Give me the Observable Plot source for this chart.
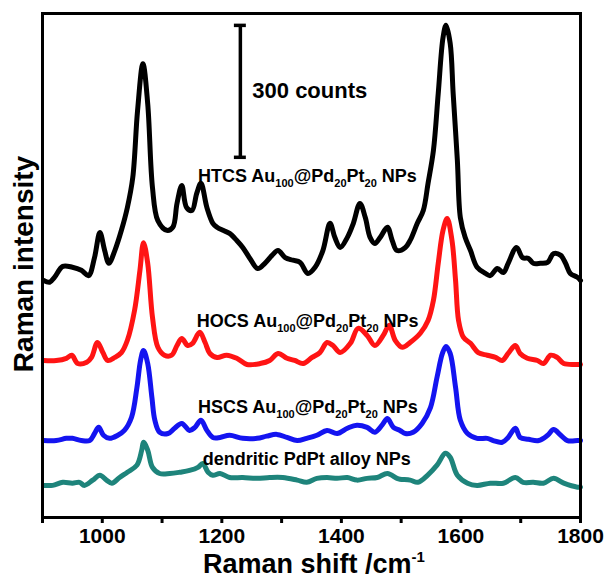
<!DOCTYPE html>
<html><head><meta charset="utf-8">
<script src="https://cdn.jsdelivr.net/npm/d3@7"></script>
<script src="https://cdn.jsdelivr.net/npm/@observablehq/plot@0.6"></script>
<style>
body{margin:0;background:#fff}
svg{font-family:"Liberation Sans",Arial,sans-serif}
</style>
</head><body><div id="chart"></div>
<script>
// HTCS Au100@Pd20Pt20 NPs (black)
const htcsShift = [902,912,920,934,950,965,977,987,996,1004,1011,1021,1032,1042,1051,1059,1068,1076,1084,1093,1108,1118,1125,1133,1141,1150,1158,1165,1175,1185,1192,1202,1213,1225,1235,1247,1260,1272,1284,1294,1306,1319,1331,1344,1356,1369,1381,1389,1398,1410,1420,1431,1440,1448,1456,1465,1477,1485,1493,1507,1515,1527,1537,1545,1554,1562,1570,1575,1582,1587,1594,1599,1607,1616,1627,1641,1649,1661,1671,1679,1693,1703,1713,1721,1733,1745,1755,1767,1775,1783,1795,1800];
const htcsCounts = [534,530,541,566,564,557,545,586,643,602,573,602,648,700,768,920,1027,936,745,670,648,655,709,750,700,693,732,755,700,664,655,648,641,625,609,584,561,573,591,602,586,580,575,550,564,602,664,632,609,632,664,709,677,632,618,632,655,625,602,609,625,664,693,755,830,959,1086,1114,1073,959,807,677,632,602,564,550,545,561,552,573,609,586,584,573,573,575,595,591,573,550,541,534];
// HOCS Au100@Pd20Pt20 NPs (red)
const hocsShift = [902,923,940,949,959,974,982,992,1001,1009,1021,1032,1042,1054,1063,1069,1076,1084,1093,1104,1116,1125,1133,1143,1151,1163,1172,1180,1192,1208,1225,1242,1264,1280,1294,1309,1322,1336,1351,1364,1376,1386,1398,1415,1428,1443,1456,1470,1480,1490,1502,1515,1532,1545,1554,1562,1570,1577,1585,1591,1596,1604,1616,1629,1644,1658,1669,1679,1691,1699,1711,1728,1738,1750,1761,1772,1795,1800];
const hocsCounts = [352,352,357,364,345,348,359,393,370,352,359,370,398,466,557,620,573,450,382,364,364,386,402,386,391,416,393,368,359,364,357,343,345,352,368,357,352,345,359,370,393,386,370,391,425,409,386,409,432,398,382,393,414,443,489,573,648,675,625,534,443,405,391,370,364,359,352,368,386,368,357,352,345,364,359,345,343,343];
// HSCS Au100@Pd20Pt20 NPs (blue)
const hscsShift = [902,923,940,950,965,979,987,994,1002,1012,1026,1037,1049,1058,1064,1069,1076,1083,1088,1096,1110,1121,1133,1146,1155,1165,1175,1185,1197,1213,1235,1259,1275,1292,1309,1326,1342,1359,1376,1393,1410,1426,1443,1456,1468,1477,1487,1498,1507,1520,1535,1549,1560,1569,1575,1582,1591,1599,1611,1627,1644,1654,1669,1679,1691,1699,1713,1730,1745,1755,1767,1778,1795,1800];
const hscsCounts = [170,170,175,175,170,170,186,200,182,175,182,193,223,291,352,375,345,268,216,189,186,198,209,193,200,216,193,177,177,182,175,175,180,184,177,170,175,182,193,186,198,205,200,189,205,220,200,193,186,189,209,245,314,368,384,368,291,216,186,175,175,170,166,177,198,177,173,170,182,195,182,170,170,170];
// dendritic PdPt alloy NPs (teal)
const dendShift = [902,917,934,950,962,970,984,996,1007,1016,1029,1042,1058,1066,1069,1076,1084,1096,1113,1130,1146,1160,1168,1177,1185,1197,1213,1235,1259,1280,1302,1326,1342,1359,1376,1393,1410,1426,1443,1460,1477,1493,1498,1515,1528,1544,1560,1574,1582,1594,1611,1627,1649,1671,1691,1704,1721,1738,1755,1772,1795,1800];
const dendCounts = [68,68,75,73,75,68,80,91,80,73,86,98,114,148,166,148,109,95,95,98,102,109,118,98,91,95,86,86,84,86,86,80,75,84,86,84,86,80,84,86,95,84,82,80,75,91,114,141,132,91,73,68,73,73,86,75,75,73,84,73,64,64];

const seriesNames = ["HTCS","HOCS","HSCS","dendritic"];
const seriesColors = ["#000000","#ff1414","#1414f0","#1e847b"];

// x axis
const xTicks = [900,1000,1100,1200,1300,1400,1500,1600,1700,1800];
const xTickLabels = ["","1000","","1200","","1400","","1600","","1800"];

// scale bar (300 counts)
const barShift = 1231;
const barLow = 814;
const barHigh = 1114;
const barText = "300 counts";

// labels: [prefix, sub1, mid1, sub2, mid2, sub3, suffix]
const labelParts = [
  ["HTCS Au","100","@Pd","20","Pt","20"," NPs"],
  ["HOCS Au","100","@Pd","20","Pt","20"," NPs"],
  ["HSCS Au","100","@Pd","20","Pt","20"," NPs"],
  ["dendritic PdPt alloy NPs"]
];
const labelShift = [1161,1159,1161,1169];
const labelCounts = [757,427,232,114];

const xTitle = "Raman shift /cm";
const xTitleSup = "-1";
const yTitle = "Raman intensity";

const rows = (xs, ys) => xs.map((x,i)=>({x, y: ys[i]}));
const data = [rows(htcsShift,htcsCounts), rows(hocsShift,hocsCounts), rows(hscsShift,hscsCounts), rows(dendShift,dendCounts)];

const plot = Plot.plot({
  width: 607, height: 578,
  marginTop: 13, marginBottom: 61, marginLeft: 42, marginRight: 27,
  style: {fontFamily: "'Liberation Sans', Arial, sans-serif", background: "#fff"},
  x: {domain: [900,1800]},
  y: {domain: [-5,1141], axis: null},
  marks: [
    ...data.map((d,i)=>Plot.line(d,{x:"x",y:"y",stroke:seriesColors[i],strokeWidth:5,curve:"catmull-rom",strokeLinejoin:"round",strokeLinecap:"round"})),
    Plot.ruleX([barShift],{y1:barLow,y2:barHigh,strokeWidth:3.5}),
    Plot.ruleY([barLow,barHigh],{x1:barShift-10,x2:barShift+10,strokeWidth:3.5}),
    Plot.text([barText],{x:barShift+20,y:(barLow+barHigh)/2,text:d=>d,textAnchor:"start",fontSize:22,fontWeight:"bold",fill:"#000"}),
    Plot.axisX({ticks:xTicks,tickFormat:(d)=>xTickLabels[xTicks.indexOf(d)],tickSize:6,strokeWidth:3,tickPadding:5,label:null,fontSize:21,fontWeight:"bold"}),
    Plot.frame({strokeWidth:3})
  ]
});
document.getElementById("chart").appendChild(plot);

const svg = d3.select(plot);
svg.selectAll("g[aria-label='x-axis tick label'] text").style("font-size","21px").style("font-weight","bold").attr("fill","#000");
const sx = plot.scale("x"), sy = plot.scale("y");

labelParts.forEach((parts,i)=>{
  const t = svg.append("text")
    .attr("x", sx.apply(labelShift[i])).attr("y", sy.apply(labelCounts[i]))
    .attr("text-anchor","start")
    .attr("font-size",18).attr("font-weight","bold").attr("fill","#000");
  parts.forEach((p,j)=>{
    const isSub = j%2===1;
    t.append("tspan").text(p)
      .attr("font-size", isSub ? 11 : 18)
      .attr("dy", isSub ? 5 : (j>0 ? -5 : 0));
  });
});

const xt = svg.append("text").attr("x",314).attr("y",573).attr("text-anchor","middle")
  .attr("font-size",27).attr("font-weight","bold").attr("fill","#000");
xt.append("tspan").text(xTitle);
xt.append("tspan").text(xTitleSup).attr("font-size",15).attr("dy",-11);

svg.append("text").attr("transform","translate(33,264) rotate(-90)").attr("text-anchor","middle")
  .attr("font-size",28).attr("font-weight","bold").attr("fill","#000").text(yTitle);
</script>
</body></html>
